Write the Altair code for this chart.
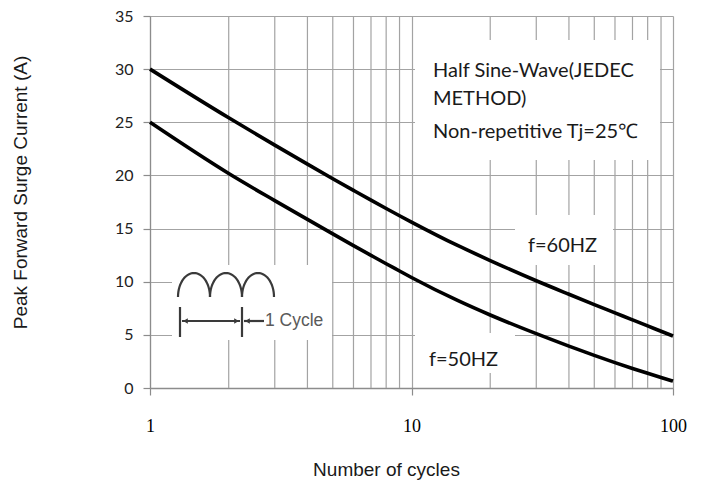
import altair as alt
import pandas as pd
import numpy as np

# ---------------- data ----------------
cycles = [1, 2, 3, 4, 5, 6, 7, 8, 9, 10, 15, 20, 30, 40, 50, 60, 70, 80, 90, 100]
current_60hz = [30, 25.42, 22.85, 21.06, 19.69, 18.59, 17.67, 16.89, 16.21, 15.61,
                13.41, 11.99, 10.09, 8.82, 7.85, 7.07, 6.41, 5.84, 5.34, 4.89]
current_50hz = [25, 20.18, 17.63, 15.86, 14.50, 13.40, 12.48, 11.69, 11.01, 10.40,
                8.24, 6.87, 5.11, 3.94, 3.07, 2.39, 1.84, 1.38, 0.99, 0.65]
series_names = ["f=60HZ", "f=50HZ"]
x_major_ticks = [1, 10, 100]
x_minor_grid = [2, 3, 4, 5, 6, 7, 8, 9, 20, 30, 40, 50, 60, 70, 80, 90]
y_ticks = [0, 5, 10, 15, 20, 25, 30, 35]
note_lines = ["Half Sine-Wave(JEDEC", "METHOD)", "Non-repetitive Tj=25\u2103"]
cycle_label = "1 Cycle"
x_title = "Number of cycles"
y_title = "Peak Forward Surge Current (A)"

# ---------------- layout / style ----------------
W, H = 523, 372
TOP = 16          # page y of plot top
GRID = "#a3a3a3"
AXIS = "#8c8c8c"
TXT = "#1a1a1a"
ANN_FONT = "Lato"

xscale = alt.Scale(type="log", domain=[1, 100], nice=False)
yscale = alt.Scale(domain=[0, 35], nice=False, zero=False)

# decoration helper: page-pixel positions -> data coordinates (annotations only)
def fx(px):
    return 10 ** ((px - 150) / W * 2)

def fy(py):
    return (TOP + H - py) / H * 35

# curves
curve_df = pd.concat([
    pd.DataFrame({"x": cycles, "y": current_60hz, "s": series_names[0]}),
    pd.DataFrame({"x": cycles, "y": current_50hz, "s": series_names[1]}),
])

# minor vertical grid lines
minor_df = pd.DataFrame({"x": x_minor_grid})

# white label backgrounds
boxes_px = [(415, 660, 40, 160), (515, 613, 215, 265), (415, 515, 333, 373), (172, 332, 265, 340)]
box_df = pd.DataFrame([{"x": fx(a), "x2": fx(b), "y": fy(c), "y2": fy(d)} for a, b, c, d in boxes_px])

# annotation texts
text_df = pd.DataFrame([
    {"x": fx(433), "y": fy(77), "t": note_lines[0]},
    {"x": fx(433), "y": fy(105), "t": note_lines[1]},
    {"x": fx(433), "y": fy(138), "t": note_lines[2]},
    {"x": fx(528), "y": fy(252), "t": series_names[0]},
    {"x": fx(429), "y": fy(366), "t": series_names[1]},
])

# "1 Cycle" icon
icon_rows = []
for i in range(3):
    cx = 194 + 32 * i
    th = np.linspace(0, np.pi, 31)
    for k, t in enumerate(th):
        icon_rows.append({"x": fx(cx - 16 * np.cos(t)), "y": fy(297 - 24 * np.sin(t)), "p": f"h{i}", "o": k})
for name, (x1, y1, x2, y2) in {"b1": (180, 307, 180, 337), "b2": (242, 307, 242, 337),
                                "a1": (182, 321, 240, 321), "a2": (244, 321, 264, 321)}.items():
    icon_rows.append({"x": fx(x1), "y": fy(y1), "p": name, "o": 0})
    icon_rows.append({"x": fx(x2), "y": fy(y2), "p": name, "o": 1})
icon_df = pd.DataFrame(icon_rows)
heads_df = pd.DataFrame([
    {"x": fx(185.5), "y": fy(321), "sh": "triangle-left"},
    {"x": fx(236.5), "y": fy(321), "sh": "triangle-right"},
    {"x": fx(247.5), "y": fy(321), "sh": "triangle-left"},
])
cyc_df = pd.DataFrame([{"x": fx(265), "y": fy(326), "t": cycle_label}])

# ---------------- layers ----------------
x_axis = alt.Axis(values=x_major_ticks, grid=True, gridColor=GRID, gridWidth=1.2,
                  ticks=True, tickSize=7, tickColor=AXIS, tickWidth=1.2,
                  domain=True, domainColor=AXIS, domainWidth=1.3,
                  labelFont="Liberation Serif", labelFontSize=18, labelColor="#000",
                  labelPadding=22, labelFlush=False, labelOverlap=False, format="d",
                  title=x_title, titleFont="Liberation Sans", titleFontSize=19,
                  titleFontWeight="normal", titleColor=TXT, titleX=236, titleY=87,
                  titleBaseline="alphabetic", titleAlign="center")
y_axis = alt.Axis(values=y_ticks, grid=True, gridColor=GRID, gridWidth=1.2,
                  ticks=True, tickSize=7, tickColor=AXIS, tickWidth=1.2,
                  domain=True, domainColor=AXIS, domainWidth=1.2,
                  labelFont="Lato", labelFontSize=16, labelColor="#222",
                  labelPadding=10, labelFlush=False, labelOverlap=False,
                  title=y_title, titleFont="Liberation Sans", titleFontSize=19,
                  titleFontWeight="normal", titleColor=TXT, titleX=-124, titleY=176,
                  titleAngle=270, titleBaseline="alphabetic", titleAlign="center")

minor = alt.Chart(minor_df).mark_rule(color=GRID, strokeWidth=1.2).encode(
    x=alt.X("x:Q", scale=xscale, axis=x_axis),
    y=alt.Y(datum=0, scale=yscale, axis=y_axis),
    y2=alt.Y2(datum=35),
)

boxes = alt.Chart(box_df).mark_rect(color="white").encode(
    x=alt.X("x:Q", scale=xscale), x2="x2:Q",
    y=alt.Y("y:Q", scale=yscale), y2="y2:Q",
)

curves = alt.Chart(curve_df).mark_line(color="black", strokeWidth=3.6, interpolate="monotone").encode(
    x=alt.X("x:Q", scale=xscale),
    y=alt.Y("y:Q", scale=yscale),
    detail="s:N",
)

texts = alt.Chart(text_df).mark_text(font=ANN_FONT, fontSize=20, color=TXT,
                                     align="left", baseline="alphabetic").encode(
    x=alt.X("x:Q", scale=xscale), y=alt.Y("y:Q", scale=yscale), text="t:N",
)

icon = alt.Chart(icon_df).mark_line(color="#3a3a3a", strokeWidth=2.2).encode(
    x=alt.X("x:Q", scale=xscale), y=alt.Y("y:Q", scale=yscale),
    detail="p:N", order="o:Q",
)

heads = alt.Chart(heads_df).mark_point(filled=True, color="#3a3a3a", size=28, opacity=1).encode(
    x=alt.X("x:Q", scale=xscale), y=alt.Y("y:Q", scale=yscale),
    shape=alt.Shape("sh:N", scale=None),
)

cyc = alt.Chart(cyc_df).mark_text(font="Liberation Sans", fontSize=17.5, color="#5a5a5a",
                                  align="left", baseline="alphabetic").encode(
    x=alt.X("x:Q", scale=xscale), y=alt.Y("y:Q", scale=yscale), text="t:N",
)

chart = alt.layer(minor, boxes, curves, texts, icon, heads, cyc).properties(
    width=W, height=H,
    autosize=alt.AutoSizeParams(type="none"),
    padding={"left": 142, "top": TOP - 8, "right": 20, "bottom": 97},
    background="white",
).configure_view(stroke=None)

chart.save("out.html", embed_options={"renderer": "svg", "actions": False})
